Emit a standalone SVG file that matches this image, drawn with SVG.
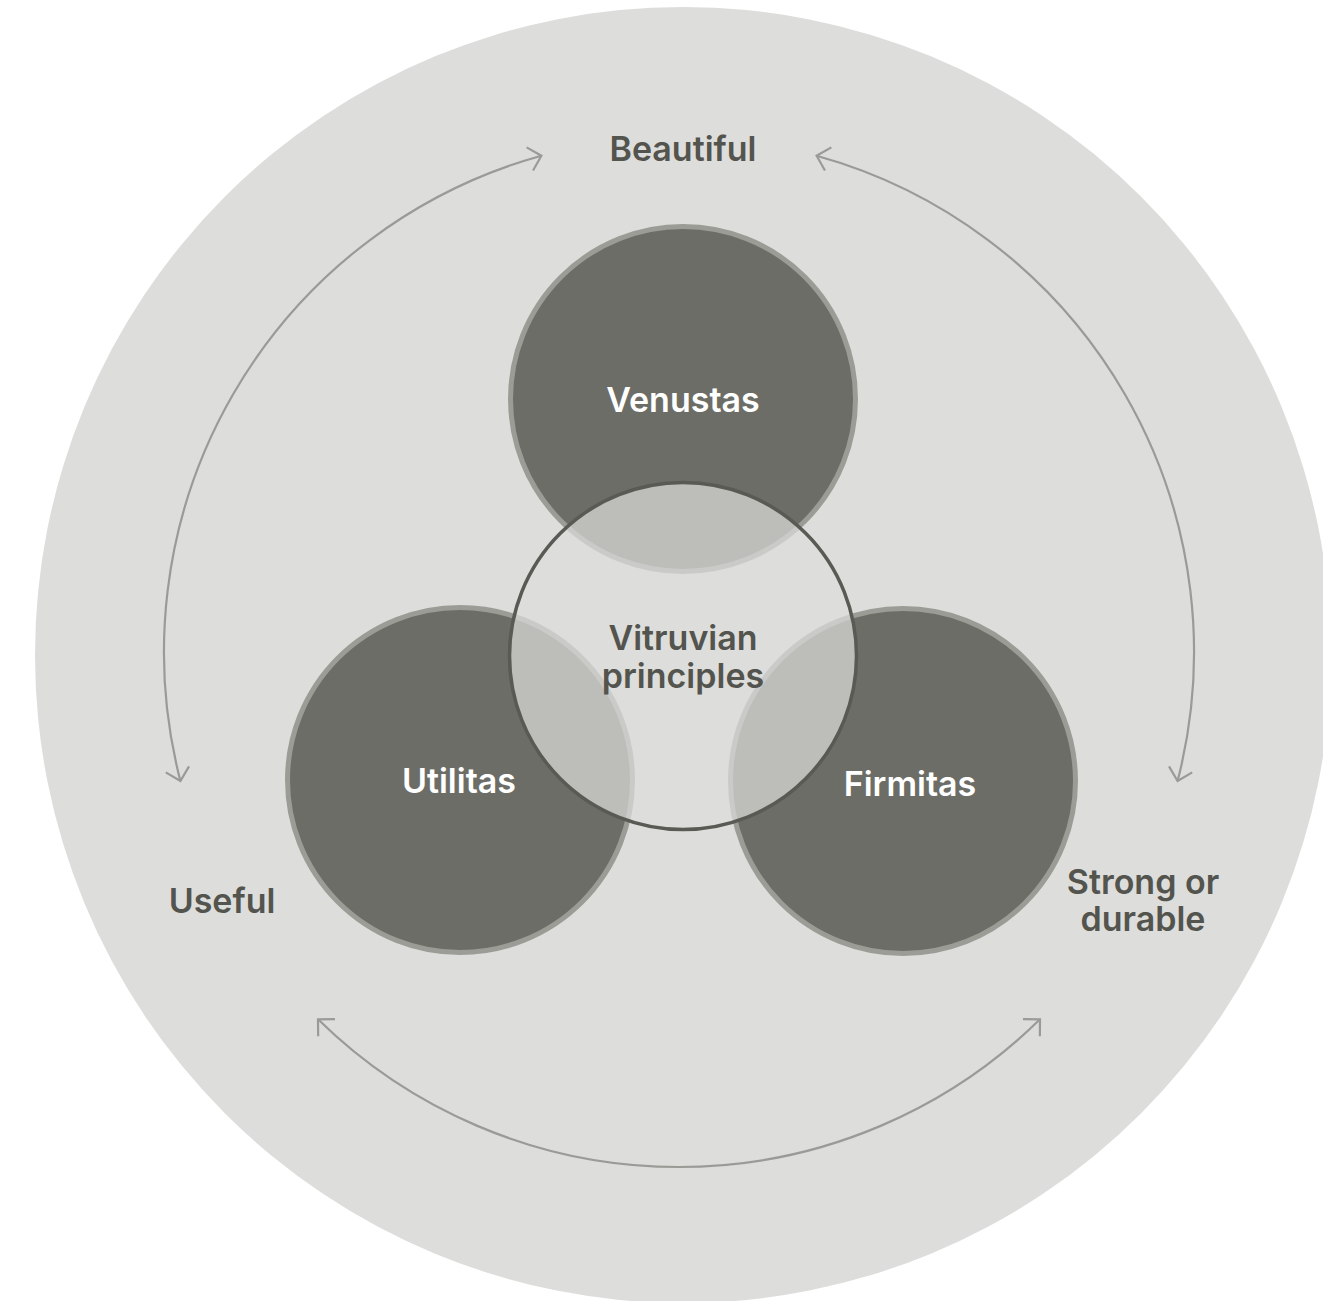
<svg xmlns="http://www.w3.org/2000/svg" width="1323" height="1301" viewBox="0 0 1323 1301">
<style>
.bg{fill:#dddddb}
.petal{fill:#6d6d67;stroke:#9c9c97;stroke-width:5}
.core{fill:#dddddb;fill-opacity:0.72;stroke:#595a54;stroke-width:3.5}
.arc{fill:none;stroke:#9a9a97;stroke-width:2.2}
text{font-family:Inter,"Liberation Sans",sans-serif;font-weight:600;font-size:34px;text-anchor:middle}
.dk{fill:#53544e}
.wt{fill:#ffffff}
</style>
<defs>
<marker id="ah" markerUnits="userSpaceOnUse" markerWidth="30" markerHeight="30" refX="0" refY="0" viewBox="-15 -15 30 30" orient="auto-start-reverse">
<path d="M-12,-12 L0,0 L-12,12" fill="none" stroke="#9a9a97" stroke-width="2.2"/>
</marker>
</defs>
<rect width="1323" height="1301" fill="#ffffff"/>
<circle class="bg" cx="683" cy="655" r="648"/>
<g id="connectors">
<path class="arc" d="M 541.4 155.7 A 515 515 0 0 0 180.4 781" marker-start="url(#ah)" marker-end="url(#ah)"/>
<path class="arc" d="M 816.6 155.7 A 515 515 0 0 1 1177.6 781" marker-start="url(#ah)" marker-end="url(#ah)"/>
<path class="arc" d="M 318 1019.3 A 515 515 0 0 0 1040 1019.3" marker-start="url(#ah)" marker-end="url(#ah)"/>
</g>
<g id="venustas">
<circle class="petal" cx="683" cy="399" r="172.5"/>
<text class="wt" x="683" y="412">Venustas</text>
</g>
<g id="utilitas">
<circle class="petal" cx="460" cy="780" r="172.5"/>
<text class="wt" x="459" y="793">Utilitas</text>
</g>
<g id="firmitas">
<circle class="petal" cx="903" cy="781" r="172.5"/>
<text class="wt" x="910" y="796">Firmitas</text>
</g>
<g id="vitruvian">
<circle class="core" cx="683" cy="656" r="173.5"/>
<text class="dk" x="683" y="650">Vitruvian</text>
<text class="dk" x="683" y="688">principles</text>
</g>
<g id="beautiful"><text class="dk" x="683" y="161">Beautiful</text></g>
<g id="useful"><text class="dk" x="222" y="913">Useful</text></g>
<g id="strong"><text class="dk" x="1143" y="894">Strong or</text><text class="dk" x="1143" y="931">durable</text></g>
</svg>
